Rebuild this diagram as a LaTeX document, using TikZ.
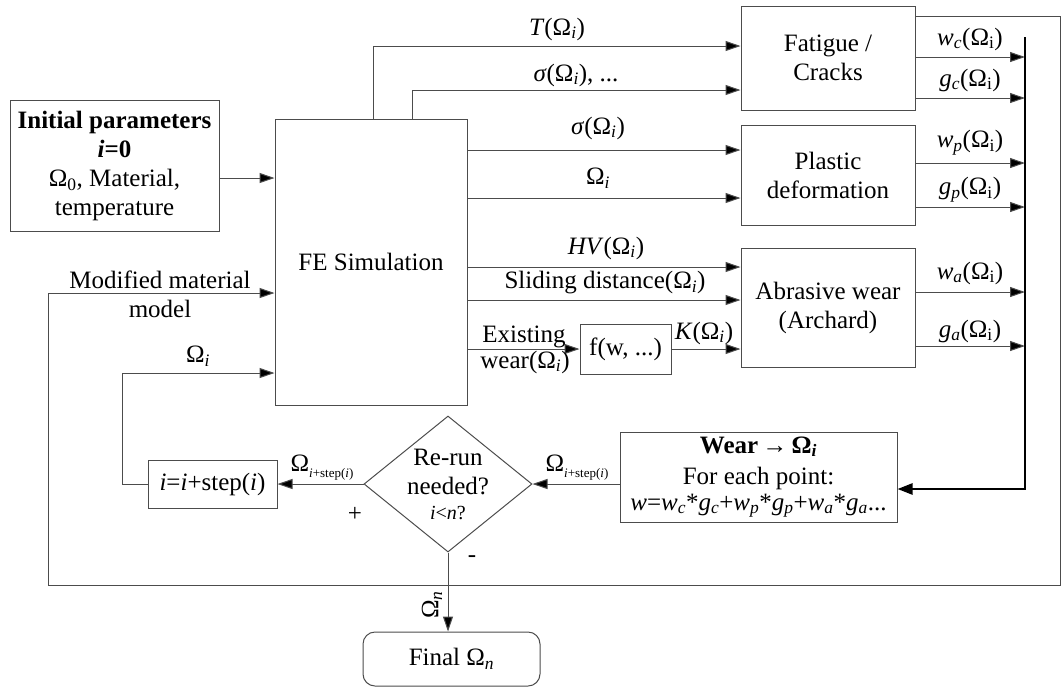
\documentclass[tikz,border=0pt]{standalone}
\usepackage{fontspec}
\setmainfont{Liberation Serif}
\usetikzlibrary{shapes.geometric,arrows.meta}
\definecolor{ln}{gray}{0.3}
\newcommand\Oi{Ω\textsubscript{\textit{i}}}
\newcommand\Ou{Ω\textsubscript{i}}
\newcommand\Ostep{Ω\raisebox{-6pt}{\fontsize{13}{13}\selectfont\textit{i}+step(\textit{i})}}
\begin{document}
\begin{tikzpicture}[x=1pt,y=-1pt,
  font=\fontsize{25}{29}\selectfont,
  box/.style={draw=ln,line width=1pt,inner sep=0pt,align=center},
  arr/.style={draw=ln,line width=1pt,-{Triangle[length=15pt,width=10pt,fill=black]}},
  bar/.style={draw=black,line width=2.5pt},
  lbl/.style={inner sep=0pt,align=center}]
\useasboundingbox (0,0) rectangle (1062,689);

% boxes
\node[box,minimum width=209,minimum height=131] (init) at (114.5,166)
  {\textbf{Initial parameters}\\ \textbf{\textit{i}=0}\\ Ω\textsubscript{0}, Material,\\ temperature};
\node[box,minimum width=192,minimum height=286] (fe) at (371,262) {FE Simulation};
\node[box,minimum width=174,minimum height=104] (fat) at (828,58) {Fatigue /\\ Cracks};
\node[box,minimum width=174,minimum height=100] (pla) at (828,175) {Plastic\\ deformation};
\node[box,minimum width=174,minimum height=119] (abr) at (828,307.5) {Abrasive wear\\ (Archard)};
\node[box,minimum width=91,minimum height=50] (fw) at (625.5,349) {f(w, ...)};
\node[box,minimum width=277,minimum height=90] (wear) at (758.5,477)
  {\textbf{Wear\,→\,Ω\textsubscript{\textit{i}}}\\[2pt] For each point:\\[-3pt]
   \textit{w}=\textit{w}\textsubscript{\textit{c}}*\textit{g}\textsubscript{\textit{c}}+\textit{w}\textsubscript{\textit{p}}*\textit{g}\textsubscript{\textit{p}}+\textit{w}\textsubscript{\textit{a}}*\textit{g}\textsubscript{\textit{a}}...};
\node[diamond,draw=ln,line width=1pt,inner sep=0pt,minimum width=168,minimum height=136] (dia) at (448,484) {};
\node[lbl] (diat) at (448,484) {Re-run\\ needed?\\[-4pt] {\fontsize{20}{22}\selectfont\textit{i}<\textit{n}?}};
\node[box,minimum width=129,minimum height=48] (ibox) at (212.5,484) {\textit{i}=\textit{i}+step(\textit{i})};
\node[box,rounded corners=12pt,minimum width=177,minimum height=54] (final) at (451.5,659) {Final Ω\textsubscript{\textit{n}}};

% coordinates
\coordinate (cT) at (373,46);
\coordinate (cS) at (412,90);
\coordinate (fb1) at (1060,16);
\coordinate (fb2) at (48,585);
\coordinate (fbm) at (48,293);
\coordinate (lo) at (122,373);
\coordinate (bt) at (1025,37);
\coordinate (bb) at (1025,489);

% FE outputs
\draw[arr] (fe.north -| cT) |- (fat.west |- cT);
\draw[arr] (fe.north -| cS) |- (fat.west |- cS);
\draw[arr] (fe.east |- 0,150) -- (pla.west |- 0,150);
\draw[arr] (fe.east |- 0,198) -- (pla.west |- 0,198);
\draw[arr] (fe.east |- 0,267) -- (abr.west |- 0,267);
\draw[arr] (fe.east |- 0,300) -- (abr.west |- 0,300);
\draw[arr] (fe.east |- fw.west) -- (fw.west);
\draw[arr] (fw.east) -- (abr.west |- fw.east);

% init
\draw[arr] (init.east |- 0,178) -- (fe.west |- 0,178);

% outputs to bar
\draw[arr] (fat.east |- 0,57) -- (bt |- 0,57);
\draw[arr] (fat.east |- 0,98) -- (bt |- 0,98);
\draw[arr] (pla.east |- 0,163) -- (bt |- 0,163);
\draw[arr] (pla.east |- 0,207) -- (bt |- 0,207);
\draw[arr] (abr.east |- 0,292) -- (bt |- 0,292);
\draw[arr] (abr.east |- 0,346) -- (bt |- 0,346);
\draw[bar,-{Triangle[length=15pt,width=11pt]}] (bt) -- (bb) -- (wear.east |- bb);

% feedback loop
\draw[arr] (fat.east |- fb1) -- (fb1) |- (fb2) |- (fe.west |- fbm);
% lower loop
\draw[arr] (wear.west |- dia.east) -- (dia.east);
\draw[arr] (dia.west) -- (ibox.east);
\draw[arr] (ibox.west) -| (lo) -- (fe.west |- lo);
\draw[arr] (dia.south) -- (dia.south |- final.north);

% labels
\node[lbl] (lT) at (557,29) {\textit{T}(\Oi)};
\node[lbl] (lS) at (576,75) {\textit{σ}(\Oi), ...};
\node[lbl] (lS2) at (598,128) {\textit{σ}(\Oi)};
\node[lbl] (lO) at (598,178) {\Oi};
\node[lbl] (lHV) at (606,248) {\textit{HV}(\Oi)};
\node[lbl] (lSD) at (605,283) {Sliding distance(\Oi)};
\node[lbl] (lEx) at (524,337) {Existing};
\node[lbl] (lEw) at (525,362) {wear(\Oi)};
\node[lbl] (lK) at (704,333) {\textit{K}(\Oi)};
\node[lbl] (lwc) at (970,39) {\textit{w}\textsubscript{\textit{c}}(\Ou)};
\node[lbl] (lgc) at (970,80) {\textit{g}\textsubscript{\textit{c}}(\Ou)};
\node[lbl] (lwp) at (970,143) {\textit{w}\textsubscript{\textit{p}}(\Ou)};
\node[lbl] (lgp) at (970,190) {\textit{g}\textsubscript{\textit{p}}(\Ou)};
\node[lbl] (lwa) at (970,273) {\textit{w}\textsubscript{\textit{a}}(\Ou)};
\node[lbl] (lga) at (970,331) {\textit{g}\textsubscript{\textit{a}}(\Ou)};
\node[lbl] (lMod) at (160,294) {Modified material\\ model};
\node[lbl] (lOl) at (198,356) {\Oi};
\node[lbl] (lOs1) at (322,468) {\Ostep};
\node[lbl] (lOs2) at (577,468) {\Ostep};
\node[lbl] (lplus) at (355,514) {+};
\node[lbl] (lminus) at (472,559) {-};
\node[lbl,rotate=90] (lOn) at (432,605) {Ω\textsubscript{\textit{n}}};
\end{tikzpicture}
\end{document}
